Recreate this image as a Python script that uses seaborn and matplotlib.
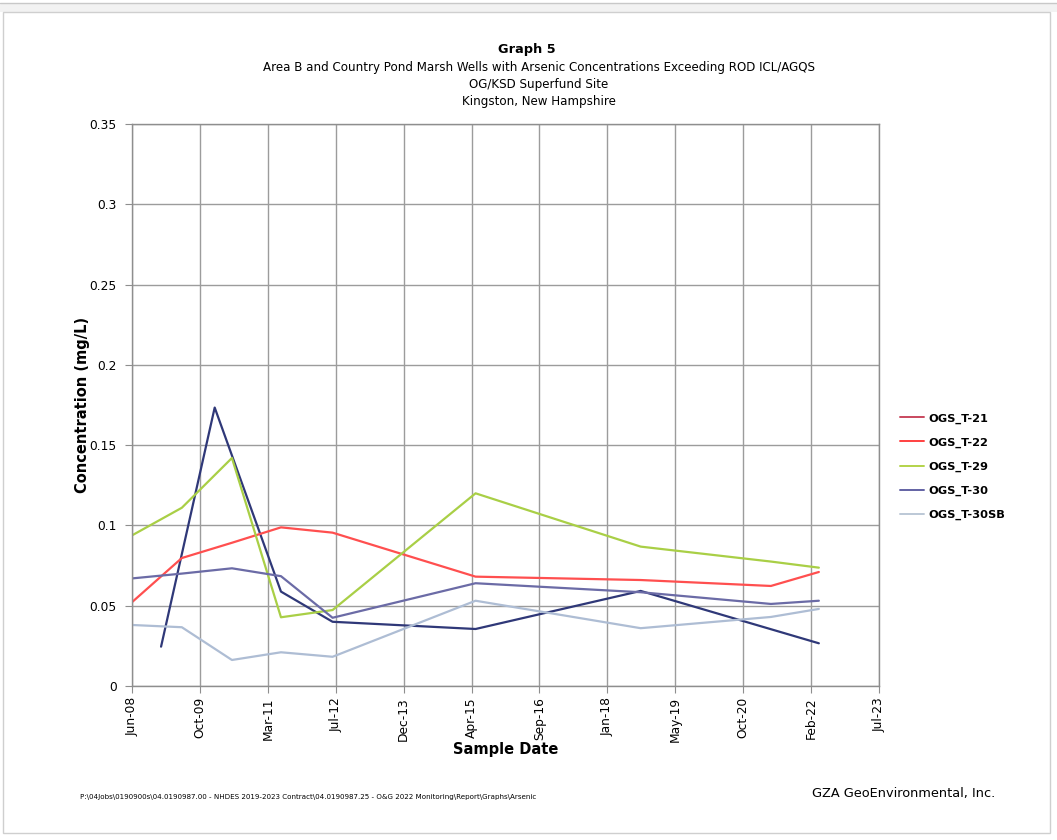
import numpy as np
import pandas as pd
import matplotlib
matplotlib.use("Agg")
import matplotlib.pyplot as plt
import matplotlib.dates as mdates
from matplotlib.lines import Line2D
from matplotlib.patches import Rectangle
import seaborn as sns

# Sampling events (shared date list; None = well not sampled / not exceeding)
sample_dates = ["2008-06-15", "2009-01-15", "2009-06-17", "2010-02-14", "2010-06-21",
                "2011-06-17", "2012-07-01", "2015-05-20", "2018-09-17", "2021-05-03",
                "2022-04-21"]

# Arsenic concentrations (mg/L)
ogs_t21 = [None, 0.0245, None, 0.1734, None, 0.0588, 0.0400, 0.0355, 0.0592, None, 0.0266]
ogs_t22 = [0.0522, None, 0.0797, None, 0.0892, 0.0988, 0.0955, 0.0681, 0.0660, 0.0623, 0.0710]
ogs_t29 = [0.0938, None, 0.1110, None, 0.1420, 0.0428, 0.0473, 0.1200, 0.0868, 0.0775, 0.0737]
ogs_t30 = [0.0670, None, 0.0700, None, 0.0733, 0.0684, 0.0425, 0.0640, 0.0584, 0.0511, 0.0531]
ogs_t30sb = [0.0380, None, 0.0366, None, 0.0162, 0.0210, 0.0182, 0.0531, 0.0360, 0.0430, 0.0480]

wells = ["OGS_T-21", "OGS_T-22", "OGS_T-29", "OGS_T-30", "OGS_T-30SB"]
series = [ogs_t21, ogs_t22, ogs_t29, ogs_t30, ogs_t30sb]

line_colors = ["#2F3878", "#FF4F4F", "#A9CF46", "#6B6BA6", "#AEBDD4"]
legend_colors = ["#C9485E", "#FF4040", "#B3D34A", "#6262A4", "#BCC8D6"]

axis_start, axis_end = "2008-06-15", "2023-07-08"
y_ticks = [0, 0.05, 0.1, 0.15, 0.2, 0.25, 0.3, 0.35]

title_lines = ["Area B and Country Pond Marsh Wells with Arsenic Concentrations Exceeding ROD ICL/AGQS",
               "OG/KSD Superfund Site",
               "Kingston, New Hampshire"]
footer_path = ("P:\\04Jobs\\0190900s\\04.0190987.00 - NHDES 2019-2023 Contract\\04.0190987.25 - "
               "O&G 2022 Monitoring\\Report\\Graphs\\Arsenic")

rows = []
for name, vals in zip(wells, series):
    for d, v in zip(sample_dates, vals):
        if v is not None:
            rows.append({"Date": pd.Timestamp(d), "Well": name, "Conc": v})
df = pd.DataFrame(rows)

sns.set_style("white")
plt.rcParams["font.family"] = ["DejaVu Sans"]
plt.rcParams["text.color"] = "black"
plt.rcParams["axes.labelcolor"] = "black"
plt.rcParams["xtick.labelcolor"] = "black"
plt.rcParams["ytick.labelcolor"] = "black"

fig = plt.figure(figsize=(10.57, 8.40), dpi=100)
fig.patch.set_facecolor("white")

# window frame
fig.add_artist(Rectangle((0.0, 1 - 12 / 840), 1.0, 9 / 840, transform=fig.transFigure,
                         facecolor="#F2F2F2", edgecolor="none"))
fig.add_artist(Line2D([0, 1], [1 - 3 / 840, 1 - 3 / 840], transform=fig.transFigure,
                      color="#C8C8C8", lw=1))
fig.add_artist(Rectangle((3 / 1057, 1 - 833 / 840), 1047 / 1057, 821 / 840,
                         transform=fig.transFigure, facecolor="none",
                         edgecolor="#CFCFCF", lw=1))

ax = fig.add_axes([132 / 1057, 1 - 686 / 840, 747 / 1057, 562 / 840])

sns.lineplot(data=df, x="Date", y="Conc", hue="Well", hue_order=wells,
             palette=dict(zip(wells, line_colors)), estimator=None, sort=True,
             linewidth=1.6, legend=False, ax=ax)

x0 = mdates.date2num(pd.Timestamp(axis_start))
x1 = mdates.date2num(pd.Timestamp(axis_end))
ax.set_xlim(x0, x1)
ax.set_xticks(np.linspace(x0, x1, 12))
ax.xaxis.set_major_formatter(mdates.DateFormatter("%b-%y"))
ax.set_ylim(0, 0.35)
ax.set_yticks(y_ticks)
ax.set_yticklabels([f"{t:g}" for t in y_ticks])

ax.grid(True, color="#9C9C9C", linewidth=1.0)
ax.set_axisbelow(True)
for s in ax.spines.values():
    s.set_color("#8E8E8E")
    s.set_linewidth(1.0)
ax.tick_params(axis="x", direction="out", length=5, color="#8E8E8E",
               labelsize=8.8, labelrotation=90, pad=3, bottom=True)
ax.tick_params(axis="y", direction="out", length=5, color="#8E8E8E",
               labelsize=8.8, pad=6, left=True)

ax.set_xlabel("Sample Date", fontsize=10.5, fontweight="bold", labelpad=0)
ax.set_ylabel("Concentration (mg/L)", fontsize=10.5, fontweight="bold")
ax.yaxis.set_label_coords(-(132 - 90) / 747, 0.5)

# titles
fig.text(527 / 1057, 1 - 49 / 840, "Graph 5", ha="center", va="center",
         fontsize=9.3, fontweight="bold")
for i, line in enumerate(title_lines):
    fig.text(539 / 1057, 1 - (67 + 17.5 * i) / 840, line, ha="center", va="center",
             fontsize=8.6)

handles = [Line2D([0], [0], color=c, lw=1.4) for c in legend_colors]
leg = fig.legend(handles, wells, loc="upper left", bbox_to_anchor=(890 / 1057, 1 - 403 / 840),
                 frameon=False, prop={"size": 8.2, "weight": "bold"}, handlelength=2.1,
                 handletextpad=0.35, labelspacing=1.22)

fig.text(80 / 1057, 1 - 797 / 840, footer_path, ha="left", va="center", fontsize=5.1)
fig.text(995 / 1057, 1 - 794 / 840, "GZA GeoEnvironmental, Inc.", ha="right", va="center",
         fontsize=9.3)

fig.savefig("out.png", dpi=100)
